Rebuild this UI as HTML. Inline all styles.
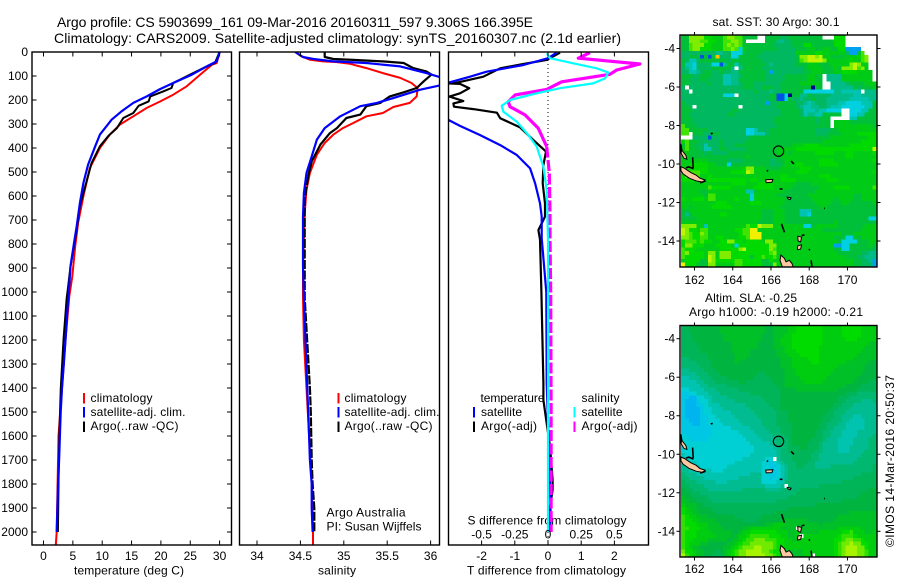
<!DOCTYPE html>
<html>
<head>
<meta charset="utf-8">
<title>Argo profile 5903699_161</title>
<style>
html,body{margin:0;padding:0;background:#fff;width:900px;height:580px;overflow:hidden}
svg{display:block}
text{font-family:"Liberation Sans",sans-serif;font-size:12px;fill:#000}
.ttl{font-size:14px}
</style>
</head>
<body>
<svg id="chart" xmlns="http://www.w3.org/2000/svg" width="900" height="580" viewBox="0 0 900 580">
  <defs>
    <clipPath id="clip1"><rect x="32" y="52" width="199.5" height="493"/></clipPath>
    <clipPath id="clip2"><rect x="239.5" y="52" width="200" height="493"/></clipPath>
    <clipPath id="clip3"><rect x="448.5" y="52" width="200" height="493"/></clipPath>
    <clipPath id="clipM1"><rect x="680" y="35.5" width="196.5" height="231.5"/></clipPath>
    <clipPath id="clipM2"><rect x="680" y="326" width="196.5" height="231"/></clipPath>
  </defs>
  <text class="ttl" x="57" y="27" textLength="476" lengthAdjust="spacing">Argo profile: CS 5903699_161 09-Mar-2016 20160311_597 9.306S 166.395E</text>
  <text class="ttl" x="54" y="43" textLength="567" lengthAdjust="spacing">Climatology: CARS2009. Satellite-adjusted climatology: synTS_20160307.nc (2.1d earlier)</text>

  <text x="74" y="574.5" textLength="110" lengthAdjust="spacing">temperature (deg C)</text>
  <text x="318" y="574.5" textLength="38" lengthAdjust="spacing">salinity</text>
  <text x="467" y="574.5" textLength="159" lengthAdjust="spacing">T difference from climatology</text>
  <text x="467.5" y="524.5" textLength="159" lengthAdjust="spacing">S difference from climatology</text>

  <text x="326.5" y="516.5" textLength="79" lengthAdjust="spacing">Argo Australia</text>
  <text x="326.5" y="530.5" textLength="95" lengthAdjust="spacing">PI: Susan Wijffels</text>

  <text x="712.5" y="26" textLength="127" lengthAdjust="spacing">sat. SST: 30 Argo: 30.1</text>
  <text x="705" y="302" textLength="92" lengthAdjust="spacing">Altim. SLA: -0.25</text>
  <text x="689" y="316" textLength="174" lengthAdjust="spacing">Argo h1000: -0.19 h2000: -0.21</text>
  <text transform="translate(894,547) rotate(-90)" textLength="172" lengthAdjust="spacing">©IMOS 14-Mar-2016 20:50:37</text>

  <g id="legend">
    <rect x="83" y="393" width="2" height="10.5" fill="#f00"/>
    <rect x="83" y="407" width="2" height="10.5" fill="#00f"/>
    <rect x="83" y="421.5" width="2" height="10.5" fill="#000"/>
    <text x="90.5" y="402" textLength="62" lengthAdjust="spacing">climatology</text>
    <text x="90.5" y="416" textLength="95" lengthAdjust="spacing">satellite-adj. clim.</text>
    <text x="90.5" y="430" textLength="88" lengthAdjust="spacing">Argo(..raw -QC)</text>
    <rect x="337.5" y="393" width="2" height="10.5" fill="#f00"/>
    <rect x="337.5" y="407" width="2" height="10.5" fill="#00f"/>
    <rect x="337.5" y="421.5" width="2" height="10.5" fill="#000"/>
    <text x="344.5" y="402" textLength="62" lengthAdjust="spacing">climatology</text>
    <text x="344.5" y="416" textLength="95" lengthAdjust="spacing">satellite-adj. clim.</text>
    <text x="344.5" y="430" textLength="88" lengthAdjust="spacing">Argo(..raw -QC)</text>
    <text x="480.5" y="402" textLength="64" lengthAdjust="spacing">temperature</text>
    <rect x="473" y="407" width="2" height="10.5" fill="#00f"/>
    <rect x="473" y="421.5" width="2" height="10.5" fill="#000"/>
    <text x="481" y="416" textLength="41" lengthAdjust="spacing">satellite</text>
    <text x="481" y="430" textLength="56" lengthAdjust="spacing">Argo(-adj)</text>
    <text x="581.5" y="402" textLength="38" lengthAdjust="spacing">salinity</text>
    <rect x="573.5" y="407" width="2" height="10.5" fill="#0ff"/>
    <rect x="573.5" y="421.5" width="2" height="10.5" fill="#f0f"/>
    <text x="581.5" y="416" textLength="41" lengthAdjust="spacing">satellite</text>
    <text x="581.5" y="430" textLength="56" lengthAdjust="spacing">Argo(-adj)</text>
  </g>
</svg>
<script>
/* ---------- tick labels ---------- */
const depthTicks = [0,100,200,300,400,500,600,700,800,900,1000,1100,1200,1300,1400,1500,1600,1700,1800,1900,2000];
const tempTicks = [0,5,10,15,20,25,30];
const salTicks = [34,34.5,35,35.5,36];
const tDiffTicks = [-2,-1,0,1,2];
const sDiffTicks = [-0.5,-0.25,0,0.25,0.5];
const lonTicks = [162,164,166,168,170];
const latTicks = [-4,-6,-8,-10,-12,-14];

/* ---------- temperature panel ---------- */
const tempClimDepth = [0,46,53,94,143,178,206,233,268,303,344,400,483,601,713,810,935,1018,1200,1400,1600,1800,2000,2054];
const tempClimValue = [30,29.5,28.7,26.7,24.4,22.1,19.9,17.6,15.3,13,11.3,9.6,7.9,6.8,5.9,5.4,4.9,4.4,3.75,3.15,2.55,2.4,2.25,2.1];
const tempArgoDepth = [0,46,67,90,129,150,164,185,206,224,254,275,317,351,393,462,560,643,740,824,893,976,1025,1200,1400,1600,1800,2000];
const tempArgoValue = [30,29.2,27.2,25.3,22.1,21.8,20.4,18.2,17.9,16.2,15.3,13.6,12.5,11,9.6,8.2,7.1,6.2,5.65,5.1,4.6,4.2,3.95,3.4,2.95,2.7,2.55,2.45];
const tempSatDepth = [0,39,60,94,129,154,185,212,247,282,344,393,469,546,629,726,796,893,990,1100,1200,1300,1400,1500,1600,1700,1800,1900,2000];
const tempSatValue = [30,29.5,27.8,25.3,22.1,19.9,17.6,15.3,13.3,11.6,9.6,8.8,7.6,6.8,6.2,5.65,5.2,4.6,4.35,4.0,3.75,3.45,3.15,2.93,2.8,2.65,2.47,2.36,2.25];

/* ---------- salinity panel ---------- */
const salClimDepth = [0,18,32,39,42,49,67,88,108,129,150,185,212,229,254,268,296,317,344,379,428,504,574,671,893,1025,1200,1400,1600,1800,2000,2054];
const salClimValue = [34.44,34.51,34.61,34.76,34.92,35.07,35.26,35.45,35.65,35.78,35.85,35.84,35.76,35.57,35.45,35.26,35.11,34.99,34.88,34.78,34.69,34.61,34.57,34.55,34.53,34.53,34.54,34.57,34.6,34.63,34.645,34.645];
const salArgoDepth = [0,21,29,33,39,46,67,81,94,122,150,168,185,212,226,261,275,317,338,386,456,518,615,754,893,1025,1400,1500,1700,1800,1900,2000];
const salArgoValue = [34.78,34.78,34.88,35.11,35.45,35.69,35.8,35.95,36.01,35.92,35.84,35.69,35.53,35.42,35.26,35.19,35.03,34.92,34.84,34.73,34.63,34.59,34.55,34.55,34.55,34.55,34.61,34.62,34.63,34.64,34.66,34.66];
const salSatDepth = [0,21,29,39,46,60,88,104,125,140,157,192,212,226,268,317,365,435,504,588,685,893,1025,1400,1500,1600,1700,1800,1900,2000];
const salSatValue = [34.44,34.53,34.65,34.88,35.26,35.65,35.95,36.1,36.25,36.1,35.88,35.57,35.38,35.19,34.96,34.78,34.69,34.63,34.57,34.54,34.53,34.53,34.54,34.58,34.59,34.6,34.61,34.63,34.63,34.64];

/* ---------- difference panel ---------- */
const dtSatDepth = [3,26,54,82,103,128,186,283,308,346,388,429,485,547,631,686,776,1000,1380,1800,1950,2000];
const dtSatValue = [0.26,0,-0.74,-1.85,-2.35,-3,-3.45,-3,-2.65,-2.05,-1.44,-0.94,-0.54,-0.39,-0.24,-0.19,-0.19,-0.05,-0.04,0.06,0.08,0.05];
const dtArgoDepth = [3,33,50,68,103,128,131,133,151,172,186,204,214,228,238,253,276,314,367,415,471,547,631,686,742,781,1000,1380,1450,1547,1644,1783,1825,1895,1992];
const dtArgoValue = [0.36,-0.04,-0.74,-1.44,-1.95,-2.75,-3,-2.65,-2.37,-2.65,-2.97,-2.55,-2.85,-2.83,-2.25,-1.54,-1.44,-0.84,-0.44,-0.06,-0.14,-0.16,-0.09,-0.09,-0.29,-0.24,-0.2,-0.14,-0.14,-0.04,0.06,0.14,0.14,0.06,0.01];
const dsSatDepth = [6,26,47,68,85,110,131,151,172,200,224,249,290,346,394,478,575,781,1200,2000];
const dsSatValue = [-0.01,0.015,0.19,0.366,0.454,0.43,0.34,0.09,-0.085,-0.286,-0.349,-0.336,-0.236,-0.148,-0.085,-0.035,-0.01,0,0,0];
const dsArgoDepth = [3,26,50,75,93,124,156,179,207,228,262,318,394,505,672,781,1000,1500,2000];
const dsArgoValue = [0.316,0.228,0.692,0.517,0.466,0.103,-0.01,-0.248,-0.3,-0.286,-0.173,-0.073,-0.01,0.01,0.015,0.015,0.02,0.023,0.023];

/* ---------- SST map cell levels (51 x 60) ---------- */
const sstRows = [
"77bbbb9988 8abbaa7777 WW77776677 7777777WWW 999WWWWWWW W",
"77bbbaa998 8aabba7WWW WW77755667 7777777777 999WWWWWWW W",
"77abbb9988 8ababa7777 7777666667 7799777777 999WWWWWWW W",
"77abb99988 8aaba38777 7777766666 7778877887 7992222WWW W",
"6666666665 5663337777 7666666666 8888899888 8886227aWW W",
"667771717e 6663377777 6666666666 7bbccbc887 7778889abW W",
"7644677777 7767777777 7666666666 7abccccb88 8888988abW W",
"7443666633 1577467777 7765666666 7778887778 8888bcb88W W",
"6543666677 7775W57777 7666666666 6678888777 87bbbcab8W W",
"6644567766 7665577777 7762666666 6677888777 8899998888 W",
"7776677766 6445567777 7766666777 7778877W55 5588888888 W",
"7766677666 6445577777 7766666777 7778877W55 5588888888 W",
"7766666766 6445567776 6666667777 7888887WW5 5556777788 8",
"6W66666666 6666667776 6777667777 7777077WW5 5555576777 8",
"66W6666666 6666666667 6665667777 7733333333 5544444W55 5",
"6666666666 6333W66666 6667711307 7557666665 5555544555 5",
"6666666666 6666666666 6667711376 6566766655 5555444445 5",
"7666666666 6666666666 6626677777 6654566655 5443333444 7",
"776W666666 66666W6666 6666677777 6544556654 4433333344 7",
"7776666666 6667766666 6666667777 7644454433 33WW333447 7",
"7766666666 6677666666 6666667777 7645544777 77WW334477 7",
"7776666666 6666666666 6666777777 777776777W WWWW447777 7",
"7776666666 6666666666 6666777777 777776777W 8888777777 7",
"a777666666 6666666666 6666677777 777777777W 8888888888 7",
"aa77777666 6666666334 6667777777 7777766667 7888888888 8",
"aaW7776677 6666666334 4467777777 7777766677 7788889999 9",
"WWW6666166 6666666677 7777777777 7777777778 8888888889 9",
"9a77766666 7666666777 7777777777 7777777888 8888888999 9",
"7a77664666 7666777777 7777777778 8899998888 8888999999 9",
"8a77764466 7766666777 7777788888 9999999999 9999999999 c",
"8877776766 6677777777 7777788878 8888899999 8889988888 9",
"8877777777 7777777877 7777778888 8888888888 8889988888 8",
"8888888777 7766667777 7776677888 8888889999 8888888888 9",
"8899999887 7737777777 7776667888 9988889999 9888888888 8",
"9999999888 8888889bb8 8877778888 8999888888 8888888888 8",
"9aaaa99888 8889999cb8 8888888888 9998888888 8888888888 9",
"9aaaa88988 8888888888 8888889988 8888889998 8888888888 8",
"9999888999 9999999899 8888889999 8888888899 9888888888 8",
"8888888888 8889999888 9999888888 7777888888 8888888888 8",
"8888888a99 9998888889 9999888887 7777778888 9999888888 a",
"8888877888 8888888447 8888888777 7777788888 8888888888 8",
"8888887aa8 8888888838 8888877777 7778888888 8888877888 8",
"9889998aa8 8888988838 8888888777 7777888888 7888877888 8",
"8888888889 9988888899 9888888777 7777788887 7788777777 8",
"8878888899 9998888888 8888887777 7777778877 7777777777 7",
"7788888888 8888888888 8777888777 7444777777 7777777777 7",
"7578888888 9988888888 8777888777 7443777777 7777777777 7",
"7777888888 8888888888 8777888777 7777777777 7777777773 3",
"8888888888 8888888888 7777888777 7777777777 8777777777 7",
"bbbb884888 8888888a99 cbbb888888 8833788888 8777777788 8",
"cb998aa888 888899aadd 8888888888 8888888777 7777777888 8",
"cba99ba888 888889aadd d888888888 8888888888 8877788888 8",
"bba99aa889 9888899add d888888888 8888888888 7773377888 8",
"9aaa9a9988 99bb998999 98bb888888 8888888888 8733337778 8",
"9bb9998889 9998399999 999bb88888 8888888888 2233777778 7",
"a999888888 99999bc999 999ba88888 8888888888 7733777777 6",
"ab99998bb8 bbb9999999 999ab88888 8888888888 8777777665 5",
"a999998cb8 bbb9999979 9a99a88888 8888888888 8887776655 5",
"8999977cb9 9999aa9999 9779888888 8888888888 8888877665 2",
"d999777bb8 8888aa9999 9777b88888 8888888888 8888877666 2"
];

/* ---------- SLA map cell levels (51 x 60) ---------- */
const slaRows = [
"8899999999 aaaaaaaaaa aa99aaaabb cccccccbbb bbcccccbbb b",
"8899999999 aaaaaaaaaa aa99aaaabb cccccccbbb bbcccccbbb b",
"8889999999 9aaaaaaaaa a999aaabbc cccccccbbb bbcccccbbb b",
"8889999999 9aaaaaaaaa a999aabbbc cccccccbbb bbbcccbbbb b",
"8888999999 999aaaaaaa 9999aabbbc cccccccbbb bbbbbbbbba a",
"8888899999 999aaaaaaa 9999aaabbc ccccccbbbb bbbbbbbbaa a",
"8888899999 999aaaaa99 99999aabbb ccccccbbbb bbbbbbbaaa a",
"8888888999 9999aaaa99 99999aaabb bcccccbbbb bbbbbbaaaa a",
"7788888999 9999aaa999 999999aaab bbbcccbbbb bbbbbaaaaa a",
"7777888899 9999a99999 999999aaab bbbbccbbbb bbbaaaaaa9 9",
"7777788899 9999999999 999999aaab bbbbbbbbbb baaaaaaa99 9",
"6677778889 9999999999 9999999aaa bbbbbbbbbb aaaaaaaa99 9",
"6666777888 9999999999 8899999aaa bbbbbbbbba aaaaaaa999 9",
"5566677788 8899999998 8889999aaa abbbbbbbaa aaaaaa9999 9",
"5555667778 8888899888 8888999aaa aabbbbbaaa aaaaa99998 8",
"5555566777 7788888888 8888899aaa aaaaaaaaaa aaa9999888 8",
"4455556667 7777788888 8888889999 aaaaaaaaaa a999998888 8",
"3344555666 7777777788 8888889999 9999999999 9998887777 7",
"3322445566 6677777777 7888889999 9999999999 9888777777 7",
"3222344566 6666777777 7788889999 9999999999 9887777666 7",
"3222334555 6666666777 7778889999 9999999999 8877766666 6",
"3222234455 5666666677 7777889999 9999999998 8777666666 6",
"3222234455 5556666667 7777788899 9999999988 7776666666 6",
"3222233445 5555666666 7777788899 9999999888 7766655666 6",
"3322233444 5555566666 6777788899 9999999887 7766555566 6",
"3332233444 4555556666 6777788889 9999998877 7665555566 6",
"3333333344 4445555566 6677778889 9999998877 6665555566 6",
"3333333344 4444455556 6667778889 9999988776 6655556666 6",
"4333333344 4444445555 6666777889 9999988776 6655556666 7",
"4433333444 4444444555 5666677789 9999888766 6555566667 7",
"4444444444 4444444455 5556677789 9998887666 6555566667 7",
"4444444444 4444444445 5555667788 8998887666 6555666667 7",
"4444444444 4444444445 5555567788 8888877666 6555666677 7",
"5444444444 4444444455 5555567778 8888776666 6666666777 7",
"5544444444 4444445555 5544W67778 8888776666 6666667777 7",
"5555444444 4444555555 5443456777 8887766666 6666677777 7",
"6555544444 4455555555 5443345677 8877766667 7777777777 8",
"6655555544 4555555555 5443345677 7777777777 7777777777 8",
"7666555555 5555555566 6443345677 7777777777 7777777888 8",
"7766665555 5555566666 6443445677 7777777777 7777788888 8",
"8777666665 5566666666 6444455777 7777777777 7788888888 8",
"8877776666 6666666666 6655556W77 7777778888 8888888888 8",
"9887777666 6666667777 7766667777 7888888888 8888888889 9",
"9988877777 7777777777 7777777777 8888888888 8888888999 9",
"a998888777 7777777777 7777777788 8888888888 8888889999 9",
"aa99888877 7777777777 7777788888 8888888888 8899999999 9",
"baaa998888 8888888888 8888888888 8888899999 9999999999 9",
"cbaa999988 8888888888 8888888899 9999999999 9999999999 9",
"cbbaa99998 8888888888 8888999999 9999999999 9999aaaaaa a",
"dcbbaaa999 9999888888 8999999999 9999999999 9aaaaaaaaa a",
"dccbbaaaa9 9999998888 999999aaaa aaa9999999 aaaaaaaaaa a",
"dcccbbbaaa 9999999999 99aabbbaaa aaaaaa9aaa aaaaaaaaaa a",
"ddcccbbaaa a99999aabb bbbbbbaaaa Waaaaaaaaa abbbbbbaaa a",
"dcccbbbbaa aaa99abbcc cccccbbbaa baaaaabbbb bbccdbbbaa b",
"dcccbbbbba aaa9abbcdd dddcccbbaa bWbbbbbbbb bcdddcbbbb b",
"dccbbbbaaa aa9aabcdde eedddccbba bbbbbbbbbb ccdeeddcbb b",
"dcbbbaa999 99aabcddee eeeedccbbb bbbbbbbbbb cdeefeeccb b",
"dcbaa99999 9aabcdeeef feeedccbbb bbbbbbbbbb cdefffeecb b",
"eccbaa9998 9abcdeefff feedccbbaa aabbbbbbbb cdefffeedb b",
"fdcbaa9988 8abcdeefff ffeedcbbaa aabbWbbbbb cdefffeedb b"
];

/* ---------- coastlines as [lon, lat] ---------- */
const landPolys = [
 [[161.3,-9.0],[161.35,-9.3],[161.55,-9.55],[161.6,-9.75],[161.45,-9.7],[161.3,-9.45]],
 [[161.29,-10.14],[161.47,-10.22],[161.82,-10.45],[162.08,-10.57],[162.29,-10.74],[162.55,-10.83],[162.43,-10.94],[162.08,-10.88],[161.73,-10.74],[161.41,-10.52],[161.29,-10.35]],
 [[165.72,-10.82],[166.1,-10.8],[166.05,-10.95],[165.75,-10.97]],
 [[166.85,-11.72],[167.05,-11.76],[167.0,-11.85],[166.88,-11.8]],
 [[167.4,-13.75],[167.6,-13.8],[167.55,-14.05],[167.42,-14.0]],
 [[167.4,-14.25],[167.6,-14.2],[167.55,-14.42],[167.38,-14.45]],
 [[166.52,-14.73],[166.7,-14.9],[166.79,-15.08],[166.96,-15.0],[167.1,-15.17],[167.17,-15.38],[166.61,-15.38],[166.47,-15.0]]
];
const reefLines = [
 [[161.9,-9.65],[161.93,-10.2]],
 [[161.55,-10.2],[161.7,-10.15],[161.95,-10.25]],
 [[161.27,-8.95],[161.3,-9.4]],
 [[162.3,-10.98],[162.58,-10.88]],
 [[167.05,-9.85],[167.2,-10.0]],
 [[166.45,-11.3],[166.6,-11.3]],
 [[166.55,-13.1],[166.7,-13.55]],
 [[168.1,-15.0],[168.15,-15.38]],
 [[167.6,-13.72],[167.75,-13.68]],
 [[165.78,-10.33],[165.85,-10.38]],
 [[167.98,-14.47],[168.04,-14.43]],
 [[168.78,-12.3],[168.82,-12.3]],
 [[162.85,-8.43],[162.95,-8.4]]
];
const floatLon = [166.395];
const floatLat = [-9.306];

/* ---------- colour keys ---------- */
const sstColors = {'0':'#000090','1':'#0050e8','2':'#00a0f0','3':'#00d0e0','4':'#00c4b0','5':'#00bc88','6':'#00b860','7':'#00bf38','8':'#00cc18','9':'#00da00','a':'#40e400','b':'#80ec00','c':'#c0f400','d':'#f0f000','e':'#ffc000','W':'#ffffff'};
const slaColors = {'2':'#00b4f0','3':'#00c8e4','4':'#00d0d4','5':'#00c4b0','6':'#00bc90','7':'#00b870','8':'#00b458','9':'#00b440','a':'#00c028','b':'#00cc10','c':'#00dc00','d':'#30e000','e':'#70ea00','f':'#a8f400','W':'#ffffff'};

/* ---------- axis functions ---------- */
const yDepth = d => 52 + d * 0.24;
const xTemp = v => 43.5 + v * 5.87;
const xSal = v => 257 + (v - 34) * 86.8;
const xDt = v => 548 + v * 33.2;
const xDs = v => 548 + v * 132.8;
const xLon = v => 694.5 + (v - 162) * 19.12;
const yLatSst = v => 48.5 + (-4 - v) * 19.25;
const yLatSla = v => 338.7 + (-4 - v) * 19.26;

const NS = 'http://www.w3.org/2000/svg';
const svg = document.getElementById('chart');
function mk(tag, parent, attrs, name) {
  const el = document.createElementNS(NS, tag);
  for (const k in attrs) el.setAttribute(k, attrs[k]);
  
  
  parent.appendChild(el);
  return el;
}
function label(parent, x, y, str, anchor, name) {
  const el = mk('text', parent, {x: x, y: y, 'text-anchor': anchor}, name);
  el.textContent = str;
  return el;
}
function series(parent, clip, xf, depths, values, color, width, name, dashFrom, dash) {
  const g = mk('g', parent, {'clip-path': 'url(#' + clip + ')'}, name);
  const solid = [], broken = [];
  depths.forEach((d, i) => {
    const p = xf(values[i]).toFixed(1) + ',' + yDepth(d).toFixed(1);
    if (dashFrom === undefined || d <= dashFrom) solid.push(p);
    if (dashFrom !== undefined && d >= dashFrom) broken.push(p);
    else if (dashFrom !== undefined && depths[i + 1] > dashFrom) broken.push(p);
  });
  mk('polyline', g, {points: solid.join(' '), fill: 'none', stroke: color, 'stroke-width': width, 'stroke-linejoin': 'round'}, name + '-line');
  if (broken.length) {
    mk('polyline', g, {points: broken.join(' '), fill: 'none', stroke: color, 'stroke-width': width, 'stroke-dasharray': dash}, name + '-deep-line');
  }
}
function panelFrame(x0, x1, name) {
  return mk('rect', svg, {x: x0, y: 52, width: x1 - x0, height: 493, fill: 'none', stroke: '#000', 'stroke-width': 1.4}, name);
}
function tick(parent, x1, y1, x2, y2, name) {
  mk('line', parent, {x1: x1, y1: y1, x2: x2, y2: y2, stroke: '#000', 'stroke-width': 1}, name);
}
function fmt(v) { return String(v); }

/* ---------- profile panels ---------- */
const gT = mk('g', svg, {}, 'temperature-panel');
series(gT, 'clip1', xTemp, tempClimDepth, tempClimValue, '#f00', 2, 'temperature-climatology');
series(gT, 'clip1', xTemp, tempArgoDepth, tempArgoValue, '#000', 2, 'temperature-argo');
series(gT, 'clip1', xTemp, tempSatDepth, tempSatValue, '#00f', 2.2, 'temperature-satellite-adj');

const gS = mk('g', svg, {}, 'salinity-panel');
series(gS, 'clip2', xSal, salClimDepth, salClimValue, '#f00', 2, 'salinity-climatology');
series(gS, 'clip2', xSal, salArgoDepth, salArgoValue, '#000', 2.2, 'salinity-argo', 600, '9 1.5');
series(gS, 'clip2', xSal, salSatDepth, salSatValue, '#00f', 2.2, 'salinity-satellite-adj');

const gD = mk('g', svg, {}, 'difference-panel');
const zeroLine = mk('line', gD, {x1: xDt(0), x2: xDt(0), y1: 52, y2: 545, stroke: '#000', 'stroke-width': 1, 'stroke-dasharray': '1 3'}, 'zero-difference-line');
series(gD, 'clip3', xDt, dtArgoDepth, dtArgoValue, '#000', 2.2, 't-difference-argo');
series(gD, 'clip3', xDt, dtSatDepth, dtSatValue, '#00f', 2.2, 't-difference-satellite');
series(gD, 'clip3', xDs, dsArgoDepth, dsArgoValue, '#f0f', 3.2, 's-difference-argo', 420, '11 2.5');
series(gD, 'clip3', xDs, dsSatDepth, dsSatValue, '#0ff', 2.2, 's-difference-satellite');

panelFrame(32, 231.5, 'temperature-panel-frame');
panelFrame(239.5, 439.5, 'salinity-panel-frame');
panelFrame(448.5, 648.5, 'difference-panel-frame');

const gTicks = mk('g', svg, {}, 'profile-axes');
depthTicks.forEach(d => {
  tick(gTicks, 32, yDepth(d), 36.5, yDepth(d), 'depth-tick-left');
  tick(gTicks, 227, yDepth(d), 231.5, yDepth(d), 'depth-tick-right');
  label(gTicks, 28, yDepth(d) + 4, fmt(d), 'end', 'depth-tick-label');
});
tempTicks.forEach(v => {
  tick(gTicks, xTemp(v), 52, xTemp(v), 56.5, 'temperature-tick-top');
  tick(gTicks, xTemp(v), 540.5, xTemp(v), 545, 'temperature-tick-bottom');
  label(gTicks, xTemp(v), 560, fmt(v), 'middle', 'temperature-tick-label');
});
salTicks.forEach(v => {
  tick(gTicks, xSal(v), 52, xSal(v), 56.5, 'salinity-tick-top');
  tick(gTicks, xSal(v), 540.5, xSal(v), 545, 'salinity-tick-bottom');
  label(gTicks, xSal(v), 560, fmt(v), 'middle', 'salinity-tick-label');
});
tDiffTicks.forEach(v => {
  tick(gTicks, xDt(v), 540.5, xDt(v), 545, 't-difference-tick');
  label(gTicks, xDt(v), 560, fmt(v), 'middle', 't-difference-tick-label');
});
sDiffTicks.forEach(v => {
  tick(gTicks, xDs(v), 52, xDs(v), 56.5, 's-difference-tick');
  label(gTicks, xDs(v), 538.5, fmt(v), 'middle', 's-difference-tick-label');
});

/* ---------- maps ---------- */
function drawMap(prefix, rows, colors, yLat, clip, top, bottom, labelY) {
  const g = mk('g', svg, {'clip-path': 'url(#' + clip + ')'}, prefix + '-map-cells');
  const startLon = 161.3, cellDeg = 0.2;
  const startLat = -4 - (top - yLat(-4)) / 19.25;
  rows.forEach((raw, r) => {
    const row = raw.replace(/ /g, '');
    for (let c = 0; c < row.length; c++) {
      const x0 = xLon(startLon + c * cellDeg), x1 = xLon(startLon + (c + 1) * cellDeg);
      const y0 = yLat(startLat - r * cellDeg), y1 = yLat(startLat - (r + 1) * cellDeg);
      const cell = document.createElementNS(NS, 'rect');
      cell.setAttribute('x', x0.toFixed(2));
      cell.setAttribute('y', y0.toFixed(2));
      cell.setAttribute('width', (x1 - x0 + 0.3).toFixed(2));
      cell.setAttribute('height', (y1 - y0 + 0.3).toFixed(2));
      cell.setAttribute('fill', colors[row[c]] || '#ffffff');
      cell.setAttribute('shape-rendering', 'crispEdges');
      
      
      g.appendChild(cell);
    }
  });
  const gL = mk('g', svg, {'clip-path': 'url(#' + clip + ')'}, prefix + '-map-coast');
  landPolys.forEach(poly => {
    const pts = poly.map(p => xLon(p[0]).toFixed(1) + ',' + yLat(p[1]).toFixed(1)).join(' ');
    mk('polygon', gL, {points: pts, fill: '#ffc8a0', stroke: '#000', 'stroke-width': 1}, 'island');
  });
  reefLines.forEach(line => {
    const pts = line.map(p => xLon(p[0]).toFixed(1) + ',' + yLat(p[1]).toFixed(1)).join(' ');
    mk('polyline', gL, {points: pts, fill: 'none', stroke: '#000', 'stroke-width': 1.6}, 'reef');
  });
  mk('circle', gL, {cx: xLon(floatLon[0]), cy: yLat(floatLat[0]) + 0.5, r: 5.2, fill: 'none', stroke: '#000', 'stroke-width': 1.1}, prefix + '-float-position');
  mk('rect', svg, {x: 680, y: top - 0.5, width: 197, height: bottom - top + 0.5, fill: 'none', stroke: '#000', 'stroke-width': 1.4}, prefix + '-map-frame');
  lonTicks.forEach(v => {
    tick(svg, xLon(v), top - 3.5, xLon(v), top, prefix + '-lon-tick-top');
    tick(svg, xLon(v), bottom, xLon(v), bottom + 3.5, prefix + '-lon-tick-bottom');
    label(svg, xLon(v), labelY, fmt(v), 'middle', prefix + '-lon-label');
  });
  latTicks.forEach(v => {
    tick(svg, 676.5, yLat(v), 680, yLat(v), prefix + '-lat-tick-left');
    tick(svg, 877, yLat(v), 880.5, yLat(v), prefix + '-lat-tick-right');
    label(svg, 675, yLat(v) + 4, fmt(v), 'end', prefix + '-lat-label');
  });
}
drawMap('sst', sstRows, sstColors, yLatSst, 'clipM1', 35.5, 267, 284);
drawMap('sla', slaRows, slaColors, yLatSla, 'clipM2', 326, 557, 573);
</script>
</body>
</html>
